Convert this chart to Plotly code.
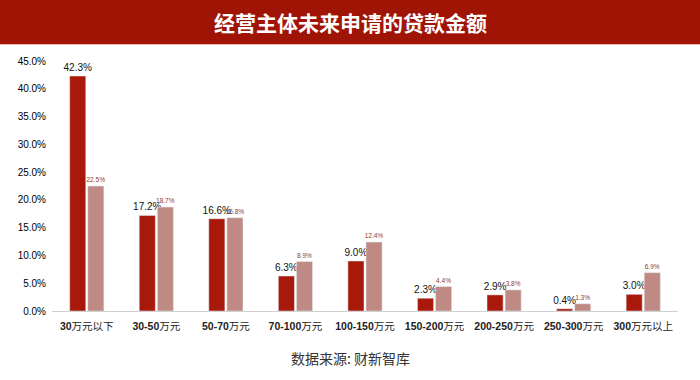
import re
import plotly.graph_objects as go

categories = ["30万元以下", "30-50万元", "50-70万元", "70-100万元", "100-150万元",
              "150-200万元", "200-250万元", "250-300万元", "300万元以上"]
series_a = [42.3, 17.2, 16.6, 6.3, 9.0, 2.3, 2.9, 0.4, 3.0]
series_b = [22.5, 18.7, 16.8, 8.9, 12.4, 4.4, 3.8, 1.3, 6.9]
y_ticks = [0, 5, 10, 15, 20, 25, 30, 35, 40, 45]

FONT = "Noto Sans CJK SC, Liberation Sans, Arial, sans-serif"
L, R, T, B = 52, 22, 61, 69
PW, PH = 700 - L - R, 380 - T - B

# bold the numeric part of the category labels, as in the reference
tick_text = [re.sub(r"^([\d\-]+)", r"<b>\1</b>", c) for c in categories]

fig = go.Figure()
fig.add_trace(go.Bar(
    x=categories, y=series_a, marker_color="#a8190b",
    text=[f"{v:.1f}%" for v in series_a], textposition="outside",
    constraintext="none",
    textfont=dict(size=10, color="#111111", family="Liberation Sans, Arial"),
    cliponaxis=False, showlegend=False,
))
fig.add_trace(go.Bar(
    x=categories, y=series_b, marker_color="#c08a84",
    text=[f"{v:.1f}%" for v in series_b], textposition="outside",
    constraintext="none",
    textfont=dict(size=6.5, color="#8a3b36", family="Liberation Sans, Arial"),
    cliponaxis=False, showlegend=False,
))

fig.update_layout(
    width=700, height=380,
    margin=dict(l=L, r=R, t=T, b=B),
    paper_bgcolor="white", plot_bgcolor="white",
    barmode="group", bargap=0.48, bargroupgap=0.11,
    font=dict(family=FONT, color="#111111"),
    xaxis=dict(
        showline=True, linecolor="#d0d0d0", linewidth=1,
        ticks="outside", ticklen=5, tickcolor="rgba(0,0,0,0)",
        tickmode="array", tickvals=categories, ticktext=tick_text,
        tickfont=dict(size=10.5, color="#222222", family="Liberation Sans, Noto Sans CJK SC"),
        showgrid=False, automargin=False,
    ),
    yaxis=dict(
        range=[0, 45], tickvals=y_ticks,
        ticktext=[f"{v:.1f}%" for v in y_ticks],
        showgrid=False, zeroline=False, showline=False, automargin=False,
        ticks="outside", ticklen=3, tickcolor="rgba(0,0,0,0)",
        tickfont=dict(size=10, color="#000000", family="Liberation Sans, Arial"),
    ),
    shapes=[
        dict(type="rect", xref="paper", yref="paper", x0=-0.2, x1=1.2,
             y0=1 + (T - 44) / PH, y1=1 + T / PH + 0.01,
             fillcolor="#a01405", line=dict(width=0), layer="above"),
        dict(type="line", xref="paper", yref="paper", x0=-0.2, x1=1.2,
             y0=1 + (T - 44.5) / PH, y1=1 + (T - 44.5) / PH,
             line=dict(color="#e8b8b0", width=1)),
    ],
    annotations=[
        dict(text="<b>经营主体未来申请的贷款金额</b>", xref="paper", yref="paper",
             x=(350 - L) / PW, y=1 + (T - 22) / PH, xanchor="center", yanchor="middle",
             showarrow=False, font=dict(size=21, color="white", family=FONT)),
        dict(text="数据来源: 财新智库", xref="paper", yref="paper",
             x=(350 - L) / PW, y=-(358 - (380 - B)) / PH, xanchor="center", yanchor="middle",
             showarrow=False, font=dict(size=14, color="#333333", family=FONT)),
    ],
)

fig.write_html("out.html", config={"displayModeBar": False},
               post_script="document.body.style.margin='0';")
